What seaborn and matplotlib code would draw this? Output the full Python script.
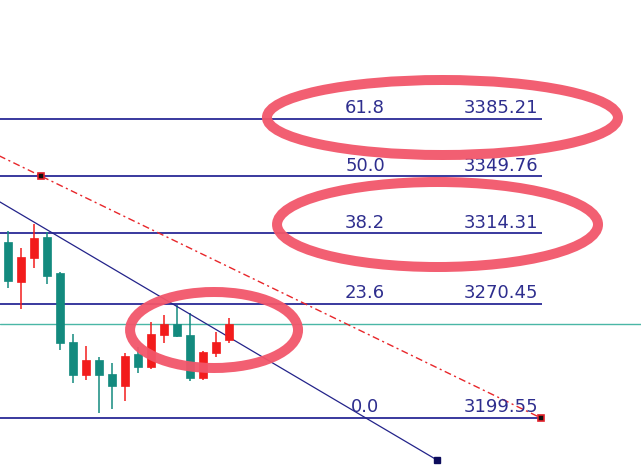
import matplotlib
matplotlib.use("Agg")
import matplotlib.pyplot as plt
from matplotlib.patches import Ellipse
import numpy as np
import pandas as pd
import seaborn as sns

# ---------------- data ----------------
bar_idx = list(range(18))
opens  = [3308.8, 3284.0, 3298.9, 3311.9, 3289.6, 3246.7, 3226.3, 3235.6, 3226.9,
          3219.4, 3239.3, 3231.2, 3251.1, 3257.9, 3251.1, 3224.4, 3239.9, 3248.0]
highs  = [3315.7, 3305.1, 3320.0, 3315.0, 3290.2, 3251.7, 3244.3, 3237.4, 3233.7,
          3239.9, 3243.6, 3259.2, 3263.5, 3269.7, 3264.8, 3241.2, 3253.0, 3261.6]
lows   = [3280.3, 3267.2, 3292.7, 3282.8, 3241.8, 3221.3, 3223.2, 3202.7, 3205.1,
          3210.1, 3227.5, 3230.0, 3246.1, 3250.0, 3222.5, 3223.2, 3237.4, 3246.1]
closes = [3284.6, 3299.5, 3311.3, 3287.7, 3246.1, 3226.3, 3235.6, 3226.3, 3219.4,
          3238.0, 3231.2, 3251.7, 3257.9, 3250.5, 3224.4, 3240.5, 3246.7, 3257.9]

fib_levels = ["0.0", "23.6", "38.2", "50.0", "61.8"]
fib_prices = [3199.55, 3270.45, 3314.31, 3349.76, 3385.21]
fib_end = 41.08

bid_price = 3257.9

trend_x = [-1.0, 33.0]
trend_y = [3335.5, 3173.47]

red_x = [-1.0, 2.54, 41.0]
red_y = [3363.6, 3349.76, 3199.55]

# ---------------- style ----------------
sns.set_style("white")
plt.rcParams["font.family"] = ["DejaVu Sans"]

NAVY = "#2a2a96"
TEXT = "#2e2e8e"
TEAL = "#138a7e"
RED = "#f21c1c"
BIDC = "#4ab7a6"
ELL = "#f2566a"

fig = plt.figure(figsize=(6.41, 4.69), dpi=100)
ax = fig.add_axes([0, 0, 1, 1])
ax.set_xlim(-8 / 13, (641 - 8) / 13)
ax.set_ylim(3167.88, 3459.10)
ax.axis("off")

# bid line
ax.axhline(bid_price, color=BIDC, lw=1.0, zorder=1)

# fib lines + labels
for lv, pr in zip(fib_levels, fib_prices):
    ax.plot([-1, fib_end], [pr, pr], color=NAVY, lw=1.3, zorder=2, solid_capstyle="butt")
    ax.annotate(lv, (27.46, pr), xytext=(0, 4), textcoords="offset points",
                ha="center", va="baseline", fontsize=13, color=TEXT, zorder=5)
    ax.annotate(f"{pr:.2f}", (40.77, pr), xytext=(0, 4), textcoords="offset points",
                ha="right", va="baseline", fontsize=13, color=TEXT, zorder=5)

# candles
df = pd.DataFrame(dict(i=bar_idx, o=opens, h=highs, l=lows, c=closes))
df["col"] = np.where(df.c >= df.o, RED, TEAL)
ax.vlines(df.i, df.l, df.h, colors=df.col, lw=1.1, zorder=3)
ax.bar(df.i, (df.c - df.o).abs().clip(lower=0.6), bottom=df[["o", "c"]].min(axis=1),
       width=0.55, color=df.col, edgecolor=df.col, lw=0.5, zorder=4)

# trend line (navy)
sns.lineplot(x=trend_x, y=trend_y, ax=ax, color="#23238a", lw=0.9, zorder=3,
             sort=False, estimator=None)
ax.plot([trend_x[-1]], [trend_y[-1]], marker="s", ms=5, color="#0c0c5c", zorder=6)

# red dash-dot line
ax.plot(red_x, red_y, color="#e8262a", lw=1.0, dashes=(5, 2.5, 1.5, 2.5), zorder=3)
ax.plot(red_x[1:], red_y[1:], ls="none", marker="s", ms=5, mfc="#111111",
        mec="#e0202a", mew=1.2, zorder=6)

# highlight ellipses
for (cx, cy, w, h) in [(33.42, 3386.14, 27.0, 46.57),
                       (33.04, 3319.70, 24.69, 52.78),
                       (15.85, 3254.19, 12.92, 47.19)]:
    ax.add_patch(Ellipse((cx, cy), w, h, fill=False, ec=ELL, lw=7.2, zorder=7, alpha=0.95))

fig.savefig("out.png", dpi=100)
